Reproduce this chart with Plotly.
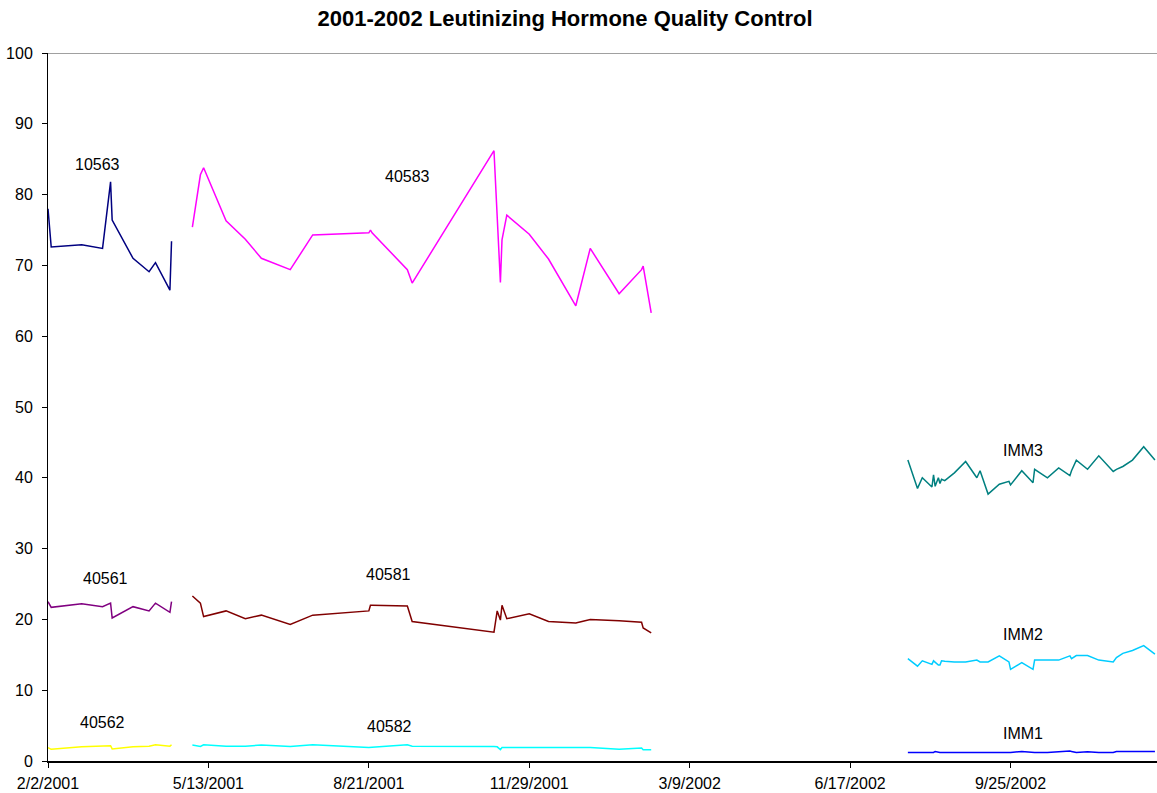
import plotly.graph_objects as go

# ---------------- data ----------------
dates_a = ["2001-02-02", "2001-02-04", "2001-02-23", "2001-03-08", "2001-03-13", "2001-03-14",
           "2001-03-27", "2001-04-06", "2001-04-10", "2001-04-19", "2001-04-20"]
s10563 = [78.0, 72.6, 72.9, 72.4, 81.8, 76.4, 71.0, 69.1, 70.4, 66.5, 73.4]
s40561 = [22.5, 21.7, 22.2, 21.8, 22.3, 20.2, 21.8, 21.2, 22.3, 21.0, 22.5]
s40562 = [1.9, 1.65, 2.0, 2.1, 2.15, 1.7, 2.0, 2.1, 2.3, 2.1, 2.3]

dates_b = ["2001-05-03", "2001-05-08", "2001-05-10", "2001-05-24", "2001-06-05", "2001-06-15",
           "2001-07-03", "2001-07-17", "2001-08-21", "2001-08-22", "2001-08-23", "2001-09-14",
           "2001-09-17", "2001-11-07", "2001-11-09", "2001-11-11", "2001-11-12", "2001-11-15",
           "2001-11-29", "2001-12-11", "2001-12-28", "2002-01-06", "2002-01-24", "2002-02-07",
           "2002-02-08", "2002-02-13"]
s40583 = [75.4, 82.8, 83.8, 76.3, 73.7, 71.0, 69.4, 74.3, 74.6, 75.0, 74.6, 69.4, 67.5,
          86.2, None, 67.6, 73.6, 77.1, 74.4, 70.9, 64.3, 72.4, 66.0, 69.4, 69.9, 63.3]
s40581 = [23.3, 22.3, 20.4, 21.2, 20.1, 20.6, 19.3, 20.6, 21.2, 22.0, 22.0, 21.9, 19.7,
          18.2, 21.2, 19.9, 22.0, 20.1, 20.8, 19.7, 19.5, 20.0, 19.8, 19.6, 18.8, 18.1]
s40582 = [2.25, 2.05, 2.3, 2.1, 2.1, 2.25, 2.05, 2.3, 1.9, 1.95, 1.95, 2.3, 2.1,
          2.05, 2.0, 1.6, 1.9, 1.9, 1.9, 1.9, 1.9, 1.9, 1.65, 1.85, 1.6, 1.6]

dates_c = ["2002-07-23", "2002-07-29", "2002-08-01", "2002-08-07", "2002-08-08", "2002-08-09",
           "2002-08-11", "2002-08-12", "2002-08-13", "2002-08-15", "2002-08-21", "2002-08-28",
           "2002-09-04", "2002-09-06", "2002-09-11", "2002-09-18", "2002-09-24", "2002-09-25",
           "2002-10-02", "2002-10-09", "2002-10-10", "2002-10-18", "2002-10-25", "2002-11-01",
           "2002-11-02", "2002-11-05", "2002-11-12", "2002-11-19", "2002-11-28", "2002-11-30",
           "2002-12-04", "2002-12-10", "2002-12-17", "2002-12-24"]
imm3 = [42.5, 38.5, 40.0, 38.7, 40.4, 38.8, 40.0, 39.2, 39.8, 39.6, 40.7, 42.3, 40.0, 41.0,
        37.7, 39.1, 39.5, 39.0, 41.0, 39.3, 41.2, 40.0, 41.4, 40.3, 41.0, 42.5, 41.2, 43.1,
        40.9, 41.2, 41.6, 42.5, 44.4, 42.5]
imm2 = [14.45, 13.4, 14.15, 13.65, 14.15, 13.9, 13.55, 13.55, 14.15, 14.1, 14.0, 14.0, 14.25,
        14.0, 14.0, 14.85, 14.0, 12.95, 13.9, 12.95, 14.25, 14.25, 14.25, 14.85, 14.45, 14.9,
        14.9, 14.25, 14.0, 14.6, 15.2, 15.6, 16.3, 15.1]
imm1 = [1.2, 1.2, 1.2, 1.2, 1.2, 1.35, 1.2, 1.2, 1.2, 1.2, 1.2, 1.2, 1.2, 1.2, 1.2, 1.2, 1.2,
        1.2, 1.35, 1.2, 1.2, 1.2, 1.35, 1.4, 1.35, 1.2, 1.3, 1.2, 1.2, 1.35, 1.35, 1.35, 1.35, 1.35]

x_tick_vals = ["2001-02-02", "2001-05-13", "2001-08-21", "2001-11-29", "2002-03-09",
               "2002-06-17", "2002-09-25"]
x_tick_text = ["2/2/2001", "5/13/2001", "8/21/2001", "11/29/2001", "3/9/2002",
               "6/17/2002", "9/25/2002"]
y_ticks = [0, 10, 20, 30, 40, 50, 60, 70, 80, 90, 100]

# label text and placement
labels = ["10563", "40583", "40561", "40581", "40562", "40582", "IMM3", "IMM2", "IMM1"]
label_x = ["2001-03-05", "2001-09-14", "2001-03-10", "2001-09-02", "2001-03-08", "2001-09-03",
           "2002-10-03", "2002-10-03", "2002-10-03"]
label_y = [84.3, 82.6, 25.8, 26.3, 5.5, 4.9, 43.9, 17.8, 3.95]

# ---------------- figure ----------------
FONT = "Liberation Sans, Arial, sans-serif"
series = [
    (dates_a, s10563, "#000080"),
    (dates_a, s40561, "#800080"),
    (dates_a, s40562, "#FFFF00"),
    (dates_b, s40583, "#FF00FF"),
    (dates_b, s40581, "#800000"),
    (dates_b, s40582, "#00FFFF"),
    (dates_c, imm3, "#008080"),
    (dates_c, imm2, "#00CCFF"),
    (dates_c, imm1, "#0000FF"),
]

fig = go.Figure()
for xs, ys, col in series:
    fig.add_trace(go.Scatter(x=xs, y=ys, mode="lines", connectgaps=True,
                             line=dict(color=col, width=1.5), showlegend=False,
                             hoverinfo="x+y"))

for t, lx, ly in zip(labels, label_x, label_y):
    fig.add_annotation(x=lx, y=ly, text=t, showarrow=False, xref="x", yref="y",
                       font=dict(family=FONT, size=16, color="black"))

# grey plot-area border along the top
fig.add_shape(type="line", xref="paper", yref="y", x0=0, x1=1, y0=100, y1=100,
              line=dict(color="#808080", width=1.5))

fig.update_layout(
    width=1157, height=793,
    margin=dict(l=48, r=0, t=53, b=32, autoexpand=False),
    paper_bgcolor="white", plot_bgcolor="white",
    font=dict(family=FONT, size=16, color="black"),
    title=dict(text="<b>2001-2002 Leutinizing Hormone Quality Control</b>",
               x=565 / 1157, xref="container", xanchor="center",
               y=1 - 18.5 / 793, yref="container", yanchor="middle",
               font=dict(family=FONT, size=22, color="black")),
    xaxis=dict(type="date", range=["2001-02-02", "2002-12-25 07:00"],
               tickvals=x_tick_vals, ticktext=x_tick_text,
               showgrid=False, zeroline=False, showline=True, linecolor="black", linewidth=2,
               ticks="outside", ticklen=5, tickcolor="black", ticklabelstandoff=2,
               tickfont=dict(family=FONT, size=16)),
    yaxis=dict(range=[0, 100], tickvals=y_ticks,
               showgrid=False, zeroline=False, showline=True, linecolor="black", linewidth=1,
               ticks="outside", ticklen=5, tickcolor="black", ticklabelstandoff=6,
               tickfont=dict(family=FONT, size=16)),
)

fig.write_html(
    "out.html",
    config={"displayModeBar": False},
    post_script="document.body.style.margin='0';document.body.style.overflow='hidden';",
)
